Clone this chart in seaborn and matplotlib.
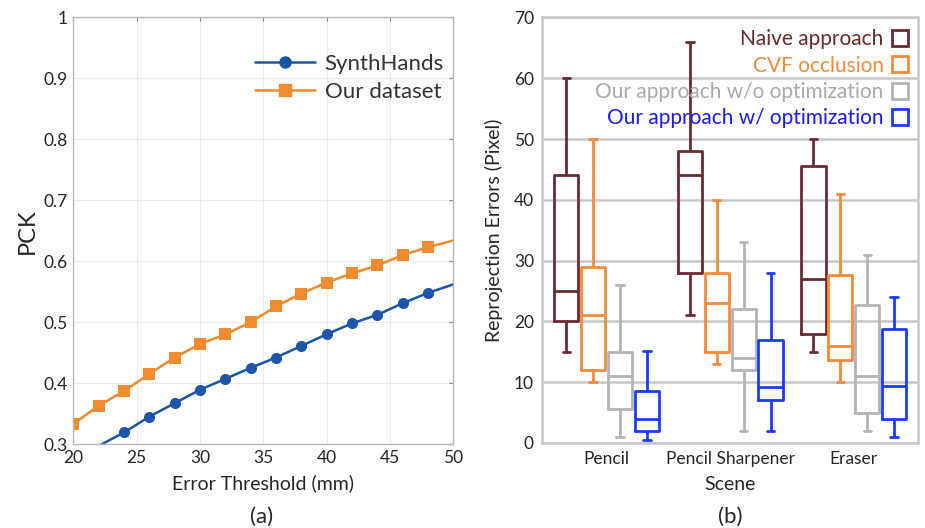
import pandas as pd
import seaborn as sns
import matplotlib.pyplot as plt
from matplotlib.lines import Line2D

# (a) PCK vs error threshold
thresholds = [20, 22, 24, 26, 28, 30, 32, 34, 36, 38, 40, 42, 44, 46, 48, 50]
pck_synthhands = [0.270, 0.297, 0.319, 0.345, 0.367, 0.389, 0.407, 0.425,
                  0.442, 0.461, 0.480, 0.498, 0.512, 0.531, 0.548, 0.562]
pck_ours = [0.333, 0.363, 0.387, 0.415, 0.442, 0.464, 0.480, 0.500,
            0.526, 0.547, 0.565, 0.580, 0.593, 0.610, 0.623, 0.634]
line_names = ["SynthHands", "Our dataset"]
pck_ticks = [0.3, 0.4, 0.5, 0.6, 0.7, 0.8, 0.9, 1.0]
pck_ticklabels = ["0.3", "0.4", "0.5", "0.6", "0.7", "0.8", "0.9", "1"]

# (b) reprojection errors, per scene: [whisker low, Q1, median, Q3, whisker high]
scenes = ["Pencil", "Pencil Sharpener", "Eraser"]
methods = ["Naive approach", "CVF occlusion",
           "Our approach w/o optimization", "Our approach w/ optimization"]
naive = [[15, 20, 25, 44, 60], [21, 28, 44, 48, 66], [15, 18, 27, 45.5, 50]]
cvf = [[10, 12, 21, 29, 50], [13, 15, 23, 28, 40], [10, 13.7, 16, 27.6, 41]]
ours_noopt = [[1, 5.6, 11, 15, 26], [2, 12, 14, 22, 33], [2, 5, 11, 22.7, 31]]
ours_opt = [[0.5, 2, 4, 8.6, 15.2], [2, 7, 9.2, 17, 28], [1, 3.9, 9.4, 18.7, 24]]

line_colors = ["#1c55aa", "#f28a2e"]
box_colors = ["#6e2a33", "#fb8a3a", "#b4b4b4", "#1b3cff"]
legend_text_colors = ["#6b2a2f", "#f7893a", "#aaaaaa", "#1a1aff"]

sns.set_style("white")
plt.rcParams['font.family'] = ['Lato', 'DejaVu Sans']

fig = plt.figure(figsize=(9.25, 5.28), dpi=100)
ax1 = fig.add_axes([0.0793, 0.159, 0.4108, 0.808])
ax2 = fig.add_axes([0.5863, 0.161, 0.4062, 0.806])

# ---- panel (a)
df_pck = pd.DataFrame({
    "threshold": thresholds * 2,
    "pck": pck_synthhands + pck_ours,
    "dataset": [line_names[0]] * len(thresholds) + [line_names[1]] * len(thresholds),
})
sns.lineplot(data=df_pck, x="threshold", y="pck", hue="dataset", style="dataset",
             markers=["o", "s"], dashes=False, palette=line_colors, linewidth=1.8,
             markersize=8, markeredgewidth=0, ax=ax1, legend=False)
# no markers on the clipped ends
ax1.lines[0].set_markevery(list(range(2, len(thresholds) - 1)))
ax1.lines[1].set_markevery(list(range(0, len(thresholds) - 1)))

ax1.set_xlim(20, 50)
ax1.set_ylim(0.3, 1.0)
ax1.set_xticks([20, 25, 30, 35, 40, 45, 50])
ax1.set_yticks(pck_ticks)
ax1.set_yticklabels(pck_ticklabels)
ax1.grid(True, color="#ebebeb", linewidth=0.8)
for s in ax1.spines.values():
    s.set_color("#b8b8b8")
    s.set_linewidth(1.0)
ax1.tick_params(direction="in", length=3, color="#888888", top=True, right=True,
                labelsize=12.5, pad=4)
ax1.set_xlabel("Error Threshold (mm)", fontsize=14, labelpad=6)
ax1.set_ylabel("PCK", fontsize=17, labelpad=4)

h1 = [Line2D([], [], color=c, marker=m, markersize=8, linewidth=1.8)
      for c, m in zip(line_colors, ["o", "s"])]
ax1.legend(h1, line_names, loc="upper right", bbox_to_anchor=(0.975, 0.915),
           frameon=False, fontsize=16, handlelength=2.7, handletextpad=0.45,
           labelspacing=0.38, borderpad=0, borderaxespad=0, labelcolor="#333333")

# ---- panel (b)
rows = []
for name, stats in zip(methods, [naive, cvf, ours_noopt, ours_opt]):
    for scene, five in zip(scenes, stats):
        for v in five:
            rows.append({"scene": scene, "method": name, "error": v})
df_err = pd.DataFrame(rows)

ax2.grid(True, axis="y", color="#c8c8c8", linewidth=1.8)
ax2.set_axisbelow(True)
sns.boxplot(data=df_err, x="scene", y="error", hue="method", order=scenes,
            hue_order=methods, palette=box_colors, fill=False, whis=(0, 100),
            width=0.87, gap=0.1, linewidth=2, showfliers=False, legend=False,
            capwidths=0.06, ax=ax2)
ax2.set_xlim(-0.52, 2.52)
ax2.set_ylim(0, 70)
ax2.set_yticks(range(0, 71, 10))
for s in ax2.spines.values():
    s.set_color("#c8c8c8")
    s.set_linewidth(1.8)
ax2.tick_params(length=0, labelsize=12.5, pad=6)
ax2.set_xlabel("Scene", fontsize=14, labelpad=6)
ax2.set_ylabel("Reprojection Errors (Pixel)", fontsize=14, labelpad=8)

h2 = [Line2D([], [], linestyle="none", marker="s", markersize=11,
             markerfacecolor="white", markeredgecolor=c, markeredgewidth=2)
      for c in box_colors]
ax2.legend(h2, methods, loc="upper right", bbox_to_anchor=(0.975, 0.972),
           frameon=False, fontsize=15, markerfirst=False, handlelength=0.8,
           handletextpad=0.4, labelspacing=0.3, borderpad=0, borderaxespad=0,
           labelcolor=legend_text_colors)

fig.text(262 / 925, 1 - 517 / 528, "(a)", fontsize=16, ha="center", va="center")
fig.text(730 / 925, 1 - 517 / 528, "(b)", fontsize=16, ha="center", va="center")

plt.savefig("out.png", dpi=100)
